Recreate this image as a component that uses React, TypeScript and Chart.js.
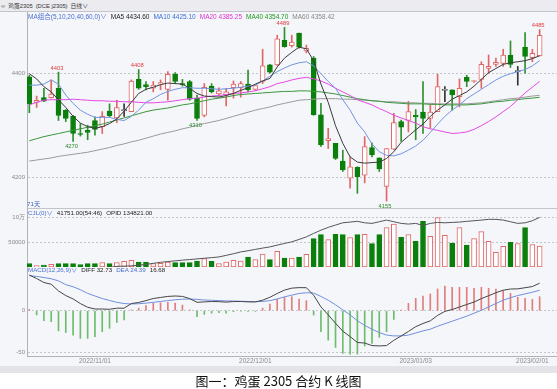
import React, { useEffect, useRef } from "react";
import { Chart, registerables } from "chart.js";

Chart.register(...registerables);

// ---------- data ----------
const openP = [
  4394, 4345, 4354, 4354, 4372, 4330, 4318, 4285, 4291, 4310,
  4298, 4328, 4315, 4329, 4327, 4389, 4379, 4372, 4380, 4370,
  4399, 4381, 4385, 4353, 4320, 4376, 4361, 4359, 4373, 4373,
  4380, 4370, 4385, 4417, 4417, 4464, 4454, 4478, 4444, 4430,
  4321, 4271, 4266, 4232, 4199, 4220, 4205, 4258, 4238, 4183,
  4255, 4308, 4310, 4320, 4326, 4314, 4327, 4368, 4369, 4356,
  4393, 4385, 4389, 4410, 4418, 4420, 4436, 4404, 4451, 4431,
  4434,
];
const highP = [
  4397, 4357, 4372, 4388, 4403, 4331, 4320, 4304, 4301, 4317,
  4327, 4342, 4349, 4342, 4388, 4408, 4385, 4385, 4388, 4404,
  4402, 4389, 4387, 4359, 4381, 4381, 4373, 4372, 4386, 4385,
  4407, 4377, 4447, 4418, 4474, 4489, 4474, 4478, 4455, 4433,
  4343, 4295, 4266, 4253, 4240, 4221, 4279, 4267, 4238, 4256,
  4324, 4311, 4347, 4331, 4385, 4340, 4399, 4375, 4369, 4390,
  4397, 4387, 4423, 4436, 4430, 4447, 4463, 4414, 4479, 4447,
  4485,
];
const lowP = [
  4325, 4335, 4346, 4353, 4310, 4308, 4270, 4280, 4273, 4282,
  4285, 4317, 4306, 4318, 4327, 4370, 4369, 4365, 4369, 4349,
  4381, 4376, 4349, 4310, 4317, 4363, 4357, 4338, 4353, 4355,
  4365, 4368, 4381, 4401, 4416, 4451, 4451, 4449, 4440, 4320,
  4260, 4256, 4235, 4212, 4180, 4170, 4190, 4240, 4212, 4155,
  4254, 4270, 4288, 4273, 4285, 4295, 4327, 4346, 4330, 4336,
  4375, 4383, 4372, 4401, 4414, 4414, 4412, 4378, 4401, 4423,
  4434,
];
const closeP = [
  4342, 4349, 4347, 4361, 4320, 4314, 4285, 4283, 4287, 4293,
  4318, 4319, 4335, 4329, 4386, 4372, 4375, 4378, 4383, 4399,
  4385, 4379, 4351, 4314, 4374, 4365, 4367, 4365, 4380, 4381,
  4369, 4377, 4415, 4403, 4467, 4452, 4461, 4451, 4449, 4321,
  4263, 4275, 4237, 4215, 4221, 4202, 4260, 4244, 4217, 4256,
  4306, 4297, 4327, 4317, 4314, 4326, 4375, 4368, 4359, 4372,
  4385, 4386, 4418, 4414, 4422, 4436, 4418, 4404, 4433, 4439,
  4474,
];

const ma5 = [
  4400, 4390, 4375, 4365, 4350, 4335, 4318, 4305, 4298, 4295,
  4298, 4304, 4313, 4328, 4345, 4362, 4370, 4374, 4379, 4382,
  4381, 4380, 4372, 4362, 4357, 4356, 4355, 4358, 4362, 4368,
  4373, 4380, 4386, 4391, 4413, 4430, 4441, 4451, 4448, 4425,
  4380, 4345, 4300, 4266, 4240, 4230, 4228, 4229, 4230, 4237,
  4250, 4268, 4280, 4292, 4303, 4318, 4330, 4340, 4351, 4358,
  4365, 4376, 4389, 4402, 4410, 4418, 4421, 4423, 4425, 4429,
  4434.6,
];
const ma10 = [
  4378, 4378, 4380, 4388, 4380, 4359, 4343, 4330, 4322, 4316,
  4316, 4316, 4312, 4310, 4318, 4330, 4345, 4352, 4360, 4366,
  4370, 4373, 4373, 4372, 4372, 4371, 4370, 4371, 4372, 4374,
  4376, 4378, 4386, 4395, 4404, 4411, 4417, 4421, 4423, 4415,
  4400, 4385, 4372, 4350, 4330, 4305, 4288, 4265, 4250, 4243,
  4242, 4246, 4253, 4261, 4272, 4287, 4303, 4318, 4330, 4340,
  4352, 4361, 4370, 4379, 4388, 4395, 4400, 4404, 4408, 4415,
  4425.1,
];
const ma20 = [
  4340, 4345, 4349, 4350, 4350, 4350, 4351, 4350, 4349, 4348,
  4348, 4347, 4347, 4346, 4346, 4345, 4344, 4344, 4345, 4346,
  4348, 4350, 4352, 4353, 4355, 4357, 4358, 4360, 4362, 4363,
  4365, 4367, 4371, 4375, 4381, 4384, 4388, 4391, 4393, 4390,
  4386, 4380, 4372, 4365, 4358, 4350, 4345, 4340, 4333, 4327,
  4320, 4315, 4310, 4305, 4298, 4294, 4291, 4288, 4285, 4286,
  4288, 4293, 4300, 4308, 4317, 4327, 4337, 4350, 4363, 4374,
  4385.25,
];
const ma40 = [
  4271, 4275, 4279, 4282, 4285, 4288, 4291, 4294, 4297, 4300,
  4303, 4307, 4311, 4315, 4319, 4323, 4327, 4330, 4332, 4334,
  4337, 4340, 4342, 4345, 4348, 4351, 4353, 4355, 4358, 4360,
  4361, 4362, 4363, 4364, 4365, 4366, 4366, 4367, 4367, 4366,
  4365, 4363, 4361, 4358, 4355, 4352, 4350, 4348, 4347, 4345,
  4344, 4343, 4342, 4342, 4342, 4341, 4341, 4340, 4340, 4340,
  4340, 4341, 4342, 4344, 4346, 4347, 4349, 4350, 4352, 4353,
  4354.7,
];
const ma60 = [
  4232, 4234, 4236, 4238, 4241, 4243, 4245, 4247, 4249, 4252,
  4255, 4258, 4262, 4265, 4269, 4272, 4276, 4280, 4284, 4287,
  4290, 4294, 4297, 4301, 4304, 4307, 4310, 4314, 4318, 4322,
  4326, 4330, 4333, 4336, 4340, 4343, 4346, 4349, 4350, 4351,
  4352, 4352, 4352, 4351, 4351, 4350, 4349, 4348, 4347, 4346,
  4346, 4345, 4344, 4344, 4343, 4343, 4342, 4342, 4342, 4342,
  4342, 4343, 4344, 4346, 4348, 4350, 4352, 4353, 4355, 4357,
  4358.42,
];

const volume = [
  6800, 2800, 4000, 5400, 6800, 6800, 6800, 4700, 6800, 6800,
  8800, 6800, 8800, 11400, 13400, 10000, 10000, 6800, 7400, 10000,
  8800, 8800, 8800, 12000, 16800, 11400, 6800, 10000, 13400, 12000,
  20000, 14800, 26000, 14700, 31400, 18000, 18000, 20000, 25400, 56700,
  64700, 54700, 65400, 64700, 58700, 64700, 65400, 46700, 64700, 78700,
  86000, 59400, 64700, 51400, 91400, 61400, 98700, 63400, 48000, 78700,
  44000, 56700, 70700, 51400, 29400, 41400, 49400, 46700, 78700, 44700,
  41751,
];
const openInterest = [
  52000, 53000, 54000, 54500, 55500, 56000, 56500, 57000, 57500, 58500,
  59000, 59500, 61000, 61300, 61700, 62600, 64000, 65500, 67100, 68200,
  69300, 70300, 71200, 72200, 73200, 74100, 75150, 77500, 80000, 82700,
  84500, 86500, 88500, 90300, 92900, 95500, 97900, 101500, 105400, 110600,
  115500, 119700, 123200, 126600, 127700, 128800, 126600, 125700, 128200, 130700,
  128200, 125700, 124700, 125700, 122700, 125700, 127200, 126600, 127200, 127700,
  128800, 129700, 130700, 131800, 131800, 130700, 128200, 125700, 126600, 129700,
  134821,
];

const diff = [
  42.45, 38.3, 33.5, 31.5, 23.5, 18, 14, 8.5, 4.1, 2,
  2, 1.7, 3, 3, 8.5, 9.8, 12, 14.5, 15.75, 17,
  17.5, 17, 14.4, 10, 10.5, 10.9, 10.8, 10.2, 10.9, 11,
  10.5, 10.4, 12.5, 16, 20.5, 24.5, 26.85, 27.45, 27.35, 18.4,
  4.5, -5, -14.9, -24.4, -30.8, -37.8, -38.5, -41.5, -41.9, -41.5,
  -35.2, -30, -24.7, -19, -15.2, -12.1, -5.6, -0.8, 1.4, 4.4,
  7.4, 10.3, 14.4, 17.8, 21.4, 24.4, 25.8, 26, 27.35, 28.75,
  32.73,
];
const dea = [
  41.7, 40.8, 39.5, 38, 35.5, 31, 28.5, 25, 20.6, 17.5,
  14.5, 12.2, 10, 8.5, 8, 8.3, 9, 10, 11, 12,
  13, 13.7, 13.9, 13.5, 12.7, 12.4, 12, 11.7, 11.5, 11.2,
  11, 10.8, 11, 12, 14, 16.5, 18.5, 20.5, 21.4, 21,
  17, 12.5, 7, 1, -5, -12, -17.5, -22, -26, -29,
  -30, -30, -29, -26.5, -24, -22, -18.5, -15.5, -12.5, -9.5,
  -6.5, -3, 0.5, 4.5, 8.5, 12.5, 15.5, 18, 20, 22,
  24.39,
];
const macdHist = [
  1.5, -5, -12, -13, -24, -26, -29, -33, -33, -31,
  -25, -21, -14, -11, 1, 3, 6, 9, 9.5, 10,
  9, 6.7, 1, -7, -4.4, -3, -2.4, -3, -1.2, -0.5,
  -1, -0.8, 3, 8, 13.5, 15.9, 16.7, 13.9, 11.9, -5.2,
  -25, -35, -43.7, -50.8, -51.6, -51.6, -42, -38.9, -31.7, -25,
  -10.3, 0.4, 8.7, 14.7, 17.5, 19.8, 25.8, 29.4, 27.8, 27.8,
  27.8, 26.6, 27.8, 26.6, 25.8, 23.8, 20.6, 15.9, 14.7, 13.5,
  16.68,
];

const dateTickIdx = [9, 31, 53, 69];
const dateTickLabels = ["2022/11/01", "2022/12/01", "2023/01/03", "2023/02/01"];
const priceTicks = [4200, 4400];
const volumeTicks = [50000, 100000];
const macdTicks = [-50, 0];
const highMarkIdx = [4, 15, 35, 70];
const lowMarkIdx = [6, 23, 49];

// ---------- styling ----------
const X_MIN = -0.32;
const X_MAX = 72.38;
const AXIS_W = 27;
const FONT = '"Liberation Sans", "Noto Sans CJK SC", sans-serif';
const RED = "#e06767";
const RED_TXT = "#e03b3b";
const GREEN = "#0b7f0b";
const GREEN_WICK = "#2f8f2f";
const GREEN_TXT = "#2a8a2a";
const DOJI = "#333333";
const HOLLOW = "#ffffff";
const GRID = "#c4c5cd";
const AXIS = "#b2b2ba";
const TICK_TXT = "#8a8a8a";
const BLUE_TXT = "#4a6fd0";

Chart.defaults.font.family = FONT;

const idx = openP.map((_, i) => i);
const isUp = (i: number) => closeP[i] > openP[i];
const isDoji = (i: number) => closeP[i] === openP[i];
const candleColor = (i: number) => (isDoji(i) ? DOJI : isUp(i) ? RED : GREEN);
const wickColor = (i: number) => (isDoji(i) ? DOJI : isUp(i) ? RED : GREEN_WICK);

function xHidden(): any {
  return { type: "linear", min: X_MIN, max: X_MAX, offset: false, display: false, grid: { offset: false } };
}

function yAxis(min: number, max: number, ticks: number[], fmt: (v: number) => string): any {
  return {
    type: "linear",
    position: "left",
    min,
    max,
    afterBuildTicks: (s: any) => {
      s.ticks = ticks.map((v) => ({ value: v }));
    },
    afterFit: (s: any) => {
      s.width = AXIS_W;
      s.paddingTop = 0;
      s.paddingBottom = 0;
    },
    ticks: { color: TICK_TXT, font: { size: 6, family: FONT }, padding: 2, callback: (v: any) => fmt(Number(v)) },
    grid: { color: GRID, drawTicks: false, lineWidth: 1 },
    border: { display: true, color: AXIS, dash: [2, 2] },
  };
}

const line = (data: number[], color: string, yAxisID = "y"): any => ({
  type: "line",
  data: idx.map((i) => ({ x: i, y: data[i] })),
  borderColor: color,
  borderWidth: 1,
  pointRadius: 0,
  tension: 0,
  yAxisID,
  order: 0,
});

const baseOptions = {
  animation: false,
  responsive: false,
  devicePixelRatio: 1,
  layout: { padding: 0 },
  events: [],
  plugins: { legend: { display: false }, tooltip: { enabled: false } },
};

const extremesPlugin = {
  id: "extremes",
  afterDatasetsDraw(chart: any) {
    const { ctx, scales } = chart;
    const x = scales.x;
    const y = scales.y;
    ctx.save();
    ctx.font = `5.8px ${FONT}`;
    ctx.textAlign = "center";
    highMarkIdx.forEach((i) => {
      ctx.fillStyle = RED_TXT;
      ctx.textBaseline = "bottom";
      ctx.fillText(String(highP[i]), x.getPixelForValue(i) - 1.5, y.getPixelForValue(highP[i]) - 1);
    });
    lowMarkIdx.forEach((i) => {
      ctx.fillStyle = GREEN_TXT;
      ctx.textBaseline = "top";
      ctx.fillText(String(lowP[i]), x.getPixelForValue(i) - 1.5, y.getPixelForValue(lowP[i]) + 2);
    });
    ctx.restore();
  },
};

type Item = { text: string; color: string };

const row = (left: number, top: number, size: number, gap: number, items: Item[]) => (
  <div
    style={{
      position: "absolute",
      left,
      top,
      display: "flex",
      gap,
      fontSize: size,
      lineHeight: `${size + 1}px`,
      whiteSpace: "nowrap",
      fontFamily: FONT,
    }}
  >
    {items.map((it, k) => (
      <span key={k} style={{ color: it.color }}>
        {it.text}
      </span>
    ))}
  </div>
);

const mainLegend: Item[] = [
  { text: "MA组合(5,10,20,40,60,0)∨", color: BLUE_TXT },
  { text: "MA5 4434.60", color: "#222" },
  { text: "MA10 4425.10", color: "#3a6fd8" },
  { text: "MA20 4385.25", color: "#e030d0" },
  { text: "MA40 4354.70", color: "#1a9a1a" },
  { text: "MA60 4358.42", color: "#888" },
];
const volLegend: Item[] = [
  { text: "CJL(0)∨", color: BLUE_TXT },
  { text: "41751.00(54:46)", color: "#222" },
  { text: "OPID 134821.00", color: "#222" },
];
const macdLegend: Item[] = [
  { text: "MACD(12,26,9)∨", color: BLUE_TXT },
  { text: "DIFF 32.73", color: "#222" },
  { text: "DEA 24.39", color: BLUE_TXT },
  { text: "16.68", color: "#222" },
];

export default function App() {
  const mainRef = useRef<HTMLCanvasElement>(null);
  const volRef = useRef<HTMLCanvasElement>(null);
  const macdRef = useRef<HTMLCanvasElement>(null);

  useEffect(() => {
    const charts: Chart[] = [];

    charts.push(
      new Chart(mainRef.current as HTMLCanvasElement, {
        type: "bar",
        data: {
          datasets: [
            line(ma5, "#3a3a3a"),
            line(ma10, "#7393e0"),
            line(ma20, "#e448e4"),
            line(ma40, "#3a963a"),
            line(ma60, "#9a9a9a"),
            {
              type: "bar",
              data: idx.map((i) => ({ x: i, y: [openP[i], closeP[i]] })),
              backgroundColor: idx.map((i) => (isUp(i) || isDoji(i) ? HOLLOW : GREEN)),
              borderColor: idx.map(candleColor),
              borderWidth: 1,
              borderSkipped: false,
              barThickness: 5,
              minBarLength: 1,
              grouped: false,
              order: 1,
            } as any,
            {
              type: "bar",
              data: idx.map((i) => ({ x: i, y: [lowP[i], highP[i]] })),
              backgroundColor: idx.map(wickColor),
              borderWidth: 0,
              barThickness: 1,
              grouped: false,
              order: 2,
            } as any,
          ],
        },
        options: {
          ...baseOptions,
          scales: { x: xHidden(), y: yAxis(4141.73, 4518.65, priceTicks, (v) => String(v)) },
        } as any,
        plugins: [extremesPlugin],
      })
    );

    charts.push(
      new Chart(volRef.current as HTMLCanvasElement, {
        type: "bar",
        data: {
          datasets: [
            { ...line(openInterest, "#555555", "oi") },
            {
              type: "bar",
              data: idx.map((i) => ({ x: i, y: volume[i] })),
              backgroundColor: idx.map((i) => (isUp(i) || isDoji(i) ? HOLLOW : GREEN)),
              borderColor: idx.map((i) => (isUp(i) || isDoji(i) ? RED : GREEN)),
              borderWidth: 1,
              borderSkipped: false,
              barThickness: 5,
              grouped: false,
              order: 1,
            } as any,
          ],
        },
        options: {
          ...baseOptions,
          scales: {
            x: xHidden(),
            y: yAxis(0, 118000, volumeTicks, (v) => (v === 100000 ? "10万" : String(v))),
            oi: { type: "linear", display: false, min: 60000, max: 148906 },
          },
        } as any,
      })
    );

    charts.push(
      new Chart(macdRef.current as HTMLCanvasElement, {
        type: "bar",
        data: {
          datasets: [
            line(diff, "#444444"),
            line(dea, "#6f8fdc"),
            {
              type: "bar",
              data: idx.map((i) => ({ x: i, y: macdHist[i] })),
              backgroundColor: idx.map((i) => (macdHist[i] >= 0 ? "#e27d7d" : "#6cbd6c")),
              borderWidth: 0,
              barThickness: 1,
              grouped: false,
              order: 1,
            } as any,
          ],
        },
        options: {
          ...baseOptions,
          scales: {
            x: {
              type: "linear",
              min: X_MIN,
              max: X_MAX,
              offset: false,
              position: "bottom",
              afterBuildTicks: (s: any) => {
                s.ticks = dateTickIdx.map((v) => ({ value: v }));
              },
              afterFit: (s: any) => {
                s.height = 16;
                s.paddingLeft = 0;
                s.paddingRight = 0;
              },
              ticks: {
                color: TICK_TXT,
                font: { size: 6.5, family: FONT },
                padding: 1,
                maxRotation: 0,
                autoSkip: false,
                callback: (_v: any, i: number) => dateTickLabels[i],
              },
              grid: { display: false, drawTicks: false, offset: false },
              border: { display: true, color: AXIS },
            },
            y: yAxis(-53.9, 52.0, macdTicks, (v) => String(v)),
          },
        } as any,
      })
    );

    return () => charts.forEach((c) => c.destroy());
  }, []);

  return (
    <div
      style={{
        position: "fixed",
        left: 0,
        top: 0,
        width: 557,
        height: 389,
        background: "#ffffff",
        overflow: "hidden",
        fontFamily: FONT,
      }}
    >
      {/* panel background */}
      <div style={{ position: "absolute", left: 0, top: 12, width: 557, height: 354, background: "#f5f6fa" }} />
      {/* title bar */}
      <div
        style={{
          position: "absolute",
          left: 0,
          top: 0,
          width: 557,
          height: 12,
          background: "#ececf0",
          borderBottom: "1px solid #c4c4cc",
          boxSizing: "border-box",
        }}
      />
      {row(1, 2.5, 5.8, 3, [
        { text: "∞", color: "#667" },
        { text: "鸡蛋2305", color: "#333" },
        { text: "(DCE j2305)", color: "#333" },
        { text: "日线∨", color: "#333" },
      ])}

      <canvas
        ref={mainRef}
        width={557}
        height={196}
        style={{ position: "absolute", left: 0, top: 12, width: 557, height: 196 }}
      />
      <div style={{ position: "absolute", left: 27, top: 208, width: 530, height: 1, background: "#c4c4cc" }} />
      <canvas
        ref={volRef}
        width={557}
        height={59}
        style={{ position: "absolute", left: 0, top: 208, width: 557, height: 59 }}
      />
      <canvas
        ref={macdRef}
        width={557}
        height={105}
        style={{ position: "absolute", left: 0, top: 267, width: 557, height: 105 }}
      />

      {/* legends */}
      {row(28, 12.8, 6.5, 4, mainLegend)}
      {row(27, 199.5, 6.2, 0, [{ text: "71天", color: "#3a5fc0" }])}
      {row(28, 209.3, 6.2, 4, volLegend)}
      {row(28, 265.8, 6.2, 4, macdLegend)}

      {/* bottom strip */}
      <div style={{ position: "absolute", left: 0, top: 366, width: 557, height: 7, background: "#e4e4e8" }} />

      {/* caption */}
      <div
        style={{
          position: "absolute",
          left: 0,
          top: 373,
          width: 557,
          height: 16,
          textAlign: "center",
          fontSize: 13,
          lineHeight: "16px",
          color: "#111",
          fontFamily: '"Noto Sans CJK SC", sans-serif',
        }}
      >
        图一：鸡蛋 2305 合约 K 线图
      </div>
    </div>
  );
}
